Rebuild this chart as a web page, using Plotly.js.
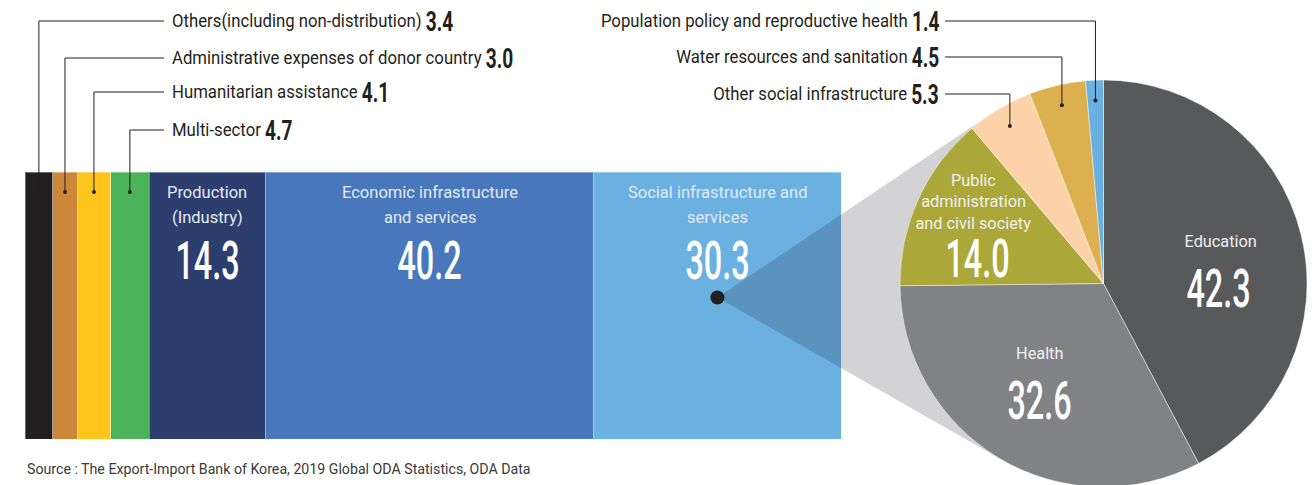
<!DOCTYPE html>
<html>
<head>
<meta charset="utf-8">
<script src="https://cdn.plot.ly/plotly-3.0.1.min.js"></script>
<style>
html,body{margin:0;padding:0;overflow:hidden;background:#fff;}
#chart{width:1316px;height:490px;}
</style>
</head>
<body>
<div id="chart"></div>
<script>
// ---- data ----
const barCats = ['Others(including non-distribution)', 'Administrative expenses of donor country', 'Humanitarian assistance', 'Multi-sector', 'Production (Industry)', 'Economic infrastructure and services', 'Social infrastructure and services'];
const barLabels = [['Others(including non-distribution)'], ['Administrative expenses of donor country'], ['Humanitarian assistance'], ['Multi-sector'], ['Production', '(Industry)'], ['Economic infrastructure', 'and services'], ['Social infrastructure and', 'services']];
const barVals = [3.4, 3.0, 4.1, 4.7, 14.3, 40.2, 30.3];
const barColors = ['#231f20', '#cd873b', '#fdc41b', '#4bb45b', '#2c3e6d', '#4878bb', '#6ab1e1'];

const pieCats = ['Education', 'Health', 'Public administration and civil society', 'Other social infrastructure', 'Water resources and sanitation', 'Population policy and reproductive health'];
const pieLabels = [['Education'], ['Health'], ['Public', 'administration', 'and civil society'], ['Other social infrastructure'], ['Water resources and sanitation'], ['Population policy and reproductive health']];
const pieVals = [42.3, 32.6, 14.0, 5.3, 4.5, 1.4];
const pieColors = ['#58595b', '#808285', '#aba839', '#fcd3a8', '#dcb04f', '#6ab0e0'];

const sourceText = 'Source : The Export-Import Bank of Korea, 2019 Global ODA Statistics, ODA Data';

// ---- layout geometry ----
const W = 1316, H = 490;
const F = 'Roboto, "Liberation Sans", sans-serif';
const DARK = '#231f20';
const bx0 = 25, bx1 = 841, byTop = 172, byBot = 439;
const pieX0 = 900, pieX1 = 1307, pieTop = 80;
const r = (pieX1 - pieX0) / 2, cx = pieX0 + r, cy = pieTop + r;

const total = barVals.reduce((a, b) => a + b, 0);
const cum = []; { let c = 0; barVals.forEach(v => { cum.push(c); c += v; }); }
const mid = i => cum[i] + barVals[i] / 2;
const toPx = v => bx0 + v / total * (bx1 - bx0);

const pieTotal = pieVals.reduce((a, b) => a + b, 0);
const pieCum = []; { let c = 0; pieVals.forEach(v => { pieCum.push(c); c += v; }); }
const pieMidAng = i => (pieCum[i] + pieVals[i] / 2) / pieTotal * 2 * Math.PI;
const piePt = (ang, rr) => [cx + rr * Math.sin(ang), cy - rr * Math.cos(ang)];

// ---- traces ----
const traces = [];
barVals.forEach((v, i) => {
  traces.push({
    type: 'bar', orientation: 'h', x: [v], y: [0], width: 1, name: barCats[i],
    marker: { color: barColors[i], line: { color: 'rgba(255,255,255,0.35)', width: 1 } },
    hoverinfo: 'skip', xaxis: 'x', yaxis: 'y'
  });
});

// connector cone from the Social segment to the pie (tangent lines)
const Dx = toPx(mid(6)), Dy = byTop + 0.47 * (byBot - byTop);
const ddx = cx - Dx, ddy = cy - Dy, d = Math.hypot(ddx, ddy);
const base = Math.atan2(ddy, ddx), half = Math.asin(r / d), L = Math.sqrt(d * d - r * r);
const T1 = [Dx + L * Math.cos(base - half), Dy + L * Math.sin(base - half)];
const T2 = [Dx + L * Math.cos(base + half), Dy + L * Math.sin(base + half)];
traces.push({
  type: 'scatter', mode: 'lines', x: [Dx, T1[0], T2[0], Dx], y: [Dy, T1[1], T2[1], Dy],
  fill: 'toself', fillcolor: 'rgba(20,20,35,0.19)', line: { width: 0 },
  hoverinfo: 'skip', xaxis: 'x2', yaxis: 'y2'
});
traces.push({
  type: 'scatter', mode: 'markers', x: [Dx], y: [Dy],
  marker: { size: 14, color: DARK }, hoverinfo: 'skip', xaxis: 'x2', yaxis: 'y2'
});

traces.push({
  type: 'pie', labels: pieCats, values: pieVals, sort: false, direction: 'clockwise', rotation: 0,
  marker: { colors: pieColors, line: { color: 'rgba(255,255,255,0.45)', width: 1 } },
  textinfo: 'none', hoverinfo: 'label+value',
  domain: { x: [pieX0 / W, pieX1 / W], y: [1 - (pieTop + 2 * r) / H, 1 - pieTop / H] }
});

// ---- leader lines & labels ----
const shapes = [];
const annotations = [];
const squeeze = [];   // horizontal condensing per annotation (condensed typeface look)
function addAnn(a, sq) { annotations.push(a); squeeze.push(sq); }
const dotShape = (x, y) => ({ type: 'circle', xref: 'x2', yref: 'y2', x0: x - 2, x1: x + 2, y0: y - 2, y1: y + 2, fillcolor: DARK, line: { width: 0 }, layer: 'above' });
const NUMSZ = 27;
const numSpan = v => `<span style="font-size:${NUMSZ}px;font-weight:bold;baseline-shift:-4px">${v.toFixed(1)}</span>`;
const ROWSZ = 18;
const ROW_S = 0.93, NUM_S = 0.76;

const leftRows = [21, 58, 92, 130];
for (let i = 0; i < 4; i++) {
  const x = toPx(mid(i)), dotY = byTop + 20;
  shapes.push({ type: 'path', xref: 'x2', yref: 'y2', layer: 'above', path: `M${x},${dotY} L${x},${leftRows[i]} L164,${leftRows[i]}`, line: { color: DARK, width: 1 } });
  shapes.push(dotShape(x, dotY));
  addAnn({ xref: 'x2', yref: 'y2', x: 170, y: leftRows[i] + 1, xanchor: 'left', yanchor: 'middle', align: 'left', showarrow: false,
    text: `${barLabels[i][0]} ${numSpan(barVals[i])}`, font: { family: F, size: ROWSZ, color: DARK } },
    { s: ROW_S, num: NUM_S, pivot: 'left' });
}

const rightRows = [[5, 21], [4, 57], [3, 94]];
rightRows.forEach(([k, y]) => {
  const p = piePt(pieMidAng(k), 0.9 * r);
  shapes.push({ type: 'path', xref: 'x2', yref: 'y2', layer: 'above', path: `M945,${y} L${p[0]},${y} L${p[0]},${p[1]}`, line: { color: DARK, width: 1 } });
  shapes.push(dotShape(p[0], p[1]));
  addAnn({ xref: 'x2', yref: 'y2', x: 941, y: y + 1, xanchor: 'right', yanchor: 'middle', align: 'right', showarrow: false,
    text: `${pieLabels[k][0]} ${numSpan(pieVals[k])}`, font: { family: F, size: ROWSZ, color: DARK } },
    { s: ROW_S, num: NUM_S, pivot: 'right' });
});

// labels inside bar segments
for (let i = 4; i < 7; i++) {
  barLabels[i].forEach((ln, j) => {
    addAnn({ xref: 'x', yref: 'y2', x: mid(i), y: 192.5 + 24.5 * j, xanchor: 'center', yanchor: 'middle', showarrow: false,
      text: ln, font: { family: F, size: 16.5, color: '#e3eaf4' } }, { s: 1.0, pivot: 'center' });
  });
  addAnn({ xref: 'x', yref: 'y2', x: mid(i), y: 260, xanchor: 'center', yanchor: 'middle', showarrow: false,
    text: barVals[i].toFixed(1), font: { family: F, size: 54, color: '#ffffff', weight: 500 } }, { s: 0.6, pivot: 'center' });
}

// labels inside pie slices
const pieText = [[0, 1220, 241, 21.5, 1218, 288], [1, 1039, 353, 21.5, 1039, 400], [2, 973, 180, 21.3, 977, 258]];
pieText.forEach(([k, lx, ly, dy, nx, ny]) => {
  pieLabels[k].forEach((ln, j) => {
    addAnn({ xref: 'x2', yref: 'y2', x: lx, y: ly + dy * j, xanchor: 'center', yanchor: 'middle', showarrow: false,
      text: ln, font: { family: F, size: 17, color: '#f0f0f0' } }, { s: 0.96, pivot: 'center' });
  });
  addAnn({ xref: 'x2', yref: 'y2', x: nx, y: ny, xanchor: 'center', yanchor: 'middle', showarrow: false,
    text: pieVals[k].toFixed(1), font: { family: F, size: 54, color: '#ffffff', weight: 500 } }, { s: 0.6, pivot: 'center' });
});

addAnn({ xref: 'x2', yref: 'y2', x: 25, y: 469, xanchor: 'left', yanchor: 'middle', align: 'left', showarrow: false,
  text: sourceText, font: { family: F, size: 15.5, color: '#3a3a3a' } }, { s: 0.915, pivot: 'left' });

const layout = {
  width: W, height: H, margin: { l: 0, r: 0, t: 0, b: 0 },
  paper_bgcolor: '#ffffff', plot_bgcolor: 'rgba(0,0,0,0)',
  showlegend: false, barmode: 'stack',
  xaxis: { domain: [bx0 / W, bx1 / W], range: [0, total], visible: false, fixedrange: true },
  yaxis: { domain: [1 - byBot / H, 1 - byTop / H], range: [-0.5, 0.5], visible: false, fixedrange: true },
  xaxis2: { domain: [0, 1], range: [0, W], visible: false, anchor: 'y2', fixedrange: true },
  yaxis2: { domain: [0, 1], range: [H, 0], visible: false, anchor: 'x2', fixedrange: true },
  shapes: shapes, annotations: annotations
};

function condense() {
  document.querySelectorAll('#chart g.annotation').forEach(g => {
    const idx = +g.getAttribute('data-index');
    const cfg = squeeze[idx];
    if (!cfg) return;
    const t = g.querySelector('text.annotation-text');
    if (!t) return;
    if (cfg.num) {
      t.querySelectorAll('tspan').forEach(ts => {
        if ((ts.getAttribute('style') || '').indexOf('bold') >= 0) {
          const w = ts.getComputedTextLength();
          ts.setAttribute('textLength', (w * cfg.num).toFixed(2));
          ts.setAttribute('lengthAdjust', 'spacingAndGlyphs');
        }
      });
    }
    const bb = t.getBBox();
    const px = cfg.pivot === 'left' ? bb.x : cfg.pivot === 'right' ? bb.x + bb.width : bb.x + bb.width / 2;
    t.setAttribute('transform', `translate(${px},0) scale(${cfg.s},1) translate(${-px},0)`);
  });
}

Plotly.newPlot('chart', traces, layout, { displayModeBar: false, staticPlot: true }).then(condense);
</script>
</body>
</html>
